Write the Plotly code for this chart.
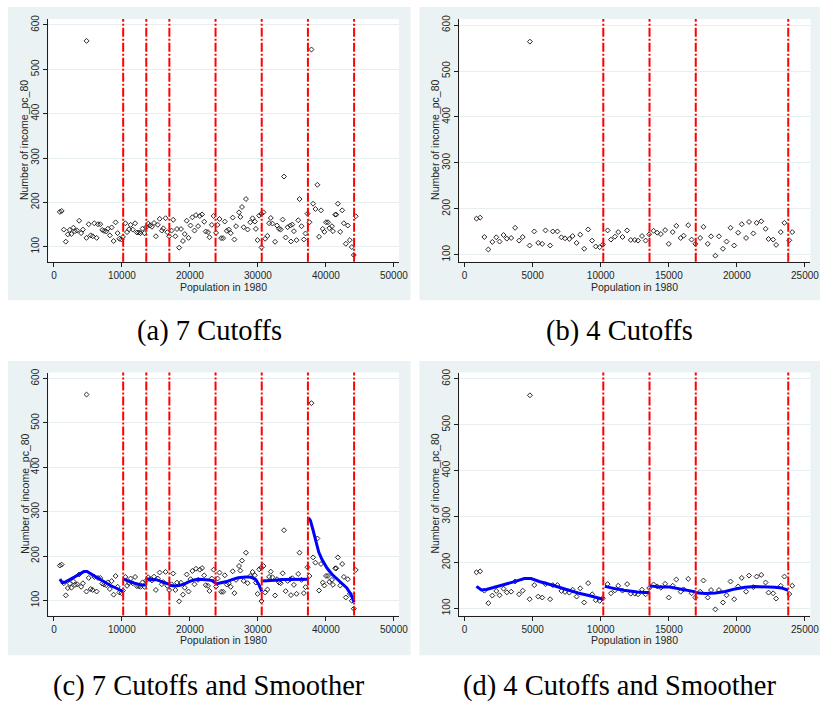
import plotly.graph_objects as go

# ---------------- data ----------------
pop_1980 = [874, 1141, 1456, 1747, 2038, 2330, 2572, 2863, 3106, 3422, 3713, 4004, 4271, 4800, 4780,
            5120, 5411, 5702, 5945, 6285, 6479, 6819, 7110, 7377, 7692, 7935, 8227, 8494, 8785, 9076,
            9367, 9634, 9925, 10150, 10508, 10751, 11042, 11285, 11600, 11940, 12207, 12498, 12740,
            13031, 13298, 13560, 13881, 14148, 14414, 14730, 14997, 15288, 15555, 15870, 16088, 16428,
            16671, 16950, 17302, 17545, 17860, 18103, 18418, 18685, 18976, 19243, 19534, 19802, 20093,
            20360, 20675, 20893, 21209, 21452, 21791, 22106, 22325, 22664, 22882, 23223, 23490,
            23850, 24064, 24356, 24599, 24890, 25134, 25425, 25717, 26009, 26301, 26544, 26787, 27225,
            27419, 27662, 27905, 28246, 28489, 28878, 29219, 29559, 29705, 29948, 30191, 30500, 30532,
            30823, 31066, 31407, 31650, 31893, 32136, 32525, 32817, 33109, 33352, 33644, 33838, 34082,
            34374, 34763, 34860, 35054, 35297, 35686, 35930, 36124, 36416, 36756, 36999, 37300, 37583,
            37874, 38118, 38459, 38750, 38993, 39285, 39528, 39771, 40014, 40306, 40501, 40890, 41036,
            41376, 41522, 41765, 42106, 42398, 42641, 42933, 43224, 43516, 43808, 44100, 44392]
income_pc_80 = [178.6, 180.7, 138.6, 111.4, 127.9, 137.9, 128.6, 142.9, 135.0, 136.4, 158.6, 130.7, 138.6,
                564.0, 120.0, 150.7, 125.7, 123.6, 152.9, 120.0, 150.7, 150.7, 137.9, 135.7, 134.3, 140.7,
                125.7, 143.6, 112.9, 155.0, 130.7, 117.9, 116.4, 122.1, 152.9, 132.9, 139.3, 149.3, 138.6,
                152.9, 132.1, 132.1, 130.7, 140.7, 130.7, 144.3, 152.1, 147.9, 145.0, 153.6, 123.6, 149.3,
                162.9, 136.4, 141.4, 164.3, 132.9, 123.6, 136.4, 160.7, 123.6, 140.0, 97.9, 140.0, 112.9,
                128.6, 158.6, 120.0, 147.9, 166.4, 136.4, 171.4, 146.4, 169.3, 172.9, 156.4, 134.3, 132.9,
                121.4, 149.3, 169.3,
                131.3, 149.3, 162.7, 119.4, 119.4, 156.7, 135.8, 138.8, 130.6, 165.7, 116.4, 146.3, 177.6,
                167.2, 189.6, 144.0, 207.5, 138.8, 155.2, 164.2, 156.7, 140.3, 114.9, 170.1, 173.9, 98.5,
                177.6, 117.9, 124.6, 153.0, 164.9, 152.2, 111.2, 147.8, 140.3, 138.8, 161.2, 258.2, 120.9,
                144.0, 147.8, 111.9, 150.0, 135.1, 114.9, 159.7, 207.5, 146.3, 116.4, 129.9, 174.6, 155.2,
                544.6, 197.0, 185.1, 239.6, 122.4, 182.1, 140.3, 133.6, 155.2, 155.2, 141.8, 146.3, 135.1,
                172.4, 172.4, 197.0, 133.6, 182.1, 153.0, 106.7, 147.8, 114.9, 99.3, 81.3, 168.7]

cutoffs_7 = [10188, 13584, 16980, 23772, 30564, 37356, 44148]
cutoffs_4 = [10188, 13584, 16980, 23772]

smooth_x = [
    [874, 1238, 1602, 2330, 3058, 3786, 4393, 4878, 5484, 6213, 6941, 7669, 8397, 9125, 9853, 10188],
    [10300, 10700, 11200, 11700, 12200, 12700, 13200, 13584],
    [13600, 14317, 15046, 15774, 16502, 16980],
    [16990, 17690, 18418, 19146, 19874, 20602, 21330, 22058, 22787, 23272, 23772],
    [23780, 24600, 25400, 26300, 27100, 28200, 29000, 29700, 30200, 30564],
    [30650, 31500, 32500, 33500, 34500, 35500, 36500, 37356],
    [37450, 37729, 38069, 38458, 38945, 39431, 40160, 40890, 41619, 42349, 43078, 43662, 44148],
]
smooth_y = [
    [148, 140, 141, 146.5, 153, 159.5, 165, 165, 158.5, 152.5, 146, 139, 133, 128, 122, 120],
    [148, 145, 142, 139.5, 137, 135.5, 134.5, 134.5],
    [149, 146.7, 146.7, 143.2, 139.6, 136],
    [134, 132.4, 133.5, 136.7, 142.4, 146, 147.5, 147.5, 146, 144.6, 139.5],
    [137, 139, 142.5, 147.5, 151, 153, 152.5, 147, 134, 120],
    [144, 144, 145.5, 147, 147.5, 147, 147, 147.5],
    [286, 280, 261, 235, 209, 192, 173, 159, 149, 139.5, 128, 114, 96],
]

captions = ["(a) 7 Cutoffs", "(b) 4 Cutoffs", "(c) 7 Cutoffs and Smoother", "(d) 4 Cutoffs and Smoother"]
x_ticks_7 = [0, 10000, 20000, 30000, 40000, 50000]
x_ticks_4 = [0, 5000, 10000, 15000, 20000, 25000]
y_ticks = [100, 200, 300, 400, 500, 600]

# ---------------- layout helpers ----------------
W, H = 829, 704
def PX(x): return x / W
def PY(y): return 1 - y / H

BG = "#EAF2F3"
GRID = "#E6EEF0"
AX = "#1e1e1e"
TICKFONT = dict(family="Liberation Sans, Arial", size=10, color="#262626")
TITLEFONT = dict(family="Liberation Sans, Arial", size=10.5, color="#262626")

panels = [
    dict(ax="", plot=(49, 403.3, 15, 259.3), bg=(8, 415, 3, 298), xr=[-800, 50740], xt=x_ticks_7,
         yr=[66, 613.5], cut=cutoffs_7, smooth=False),
    dict(ax="2", plot=(464.3, 819.3, 15, 259.3), bg=(424, 829, 3, 298), xr=[-390, 25400], xt=x_ticks_4,
         yr=[84.5, 613.5], cut=cutoffs_4, smooth=False),
    dict(ax="3", plot=(49, 403.3, 370.7, 615), bg=(8, 415, 359, 655), xr=[-800, 50740], xt=x_ticks_7,
         yr=[66, 613.5], cut=cutoffs_7, smooth=True),
    dict(ax="4", plot=(464.3, 819.3, 370.7, 615), bg=(424, 829, 359, 655), xr=[-390, 25400], xt=x_ticks_4,
         yr=[84.5, 613.5], cut=cutoffs_4, smooth=True),
]

fig = go.Figure()
shapes_bg, shapes_plot, shapes_lines = [], [], []
annotations = []

for i, p in enumerate(panels):
    a = p["ax"]
    xa, ya = "x" + a, "y" + a
    l, r, t, b = p["plot"]
    last_cut = p["cut"][-1]
    xs = [x for x, y in zip(pop_1980, income_pc_80) if x <= last_cut + 500]
    ys = [y for x, y in zip(pop_1980, income_pc_80) if x <= last_cut + 500]
    fig.add_trace(go.Scatter(
        x=xs, y=ys, mode="markers", xaxis=xa, yaxis=ya, showlegend=False,
        marker=dict(symbol="diamond-open", size=3.8, color="#111111", line=dict(width=0.9)),
        hoverinfo="skip"))
    if p["smooth"]:
        nseg = len(p["cut"])
        sx, sy = [], []
        for k in range(nseg):
            sx += smooth_x[k] + [None]
            sy += smooth_y[k] + [None]
        fig.add_trace(go.Scatter(x=sx, y=sy, mode="lines", xaxis=xa, yaxis=ya, showlegend=False,
                                 line=dict(color="#0000FF", width=3), hoverinfo="skip"))

    fig.layout["xaxis" + a] = dict(
        domain=[PX(l), PX(r)], anchor=ya, range=p["xr"], tickmode="array", tickvals=p["xt"],
        ticktext=[str(v) for v in p["xt"]], ticks="outside", ticklen=4, tickwidth=1, tickcolor=AX,
        showline=True, linecolor=AX, linewidth=1, showgrid=False, zeroline=False, tickfont=TICKFONT)
    fig.layout["yaxis" + a] = dict(
        domain=[PY(b), PY(t)], anchor=xa, range=p["yr"], tickmode="array", tickvals=y_ticks,
        ticktext=[str(v) for v in y_ticks], ticks="outside", ticklen=4, tickwidth=1, tickcolor=AX,
        tickangle=-90, showline=True, linecolor=AX, linewidth=1, showgrid=True, gridcolor=GRID,
        gridwidth=1, zeroline=False, tickfont=TICKFONT)

    bl, br, bt, bb = p["bg"]
    shapes_bg.append(dict(type="rect", xref="paper", yref="paper", x0=PX(bl), x1=PX(br),
                          y0=PY(bb), y1=PY(bt), fillcolor=BG, line=dict(width=0), layer="below"))
    shapes_plot.append(dict(type="rect", xref=xa + " domain", yref=ya + " domain", x0=0, x1=1,
                            y0=0, y1=1, fillcolor="white", line=dict(width=0), layer="below"))
    for c in p["cut"]:
        shapes_lines.append(dict(type="line", xref=xa, yref=ya + " domain", x0=c, x1=c, y0=0, y1=1,
                                 line=dict(color="#FF0000", width=2, dash="9px,2px,2px,2px"),
                                 layer="above"))

    annotations.append(dict(text="Population in 1980", xref="paper", yref="paper",
                            x=PX((l + r) / 2), y=PY(b + 25), xanchor="center", yanchor="middle",
                            showarrow=False, font=TITLEFONT))
    annotations.append(dict(text="Number of income_pc_80", xref="paper", yref="paper",
                            x=PX(l - 24), y=PY((t + b) / 2), xanchor="center", yanchor="middle",
                            textangle=-90, showarrow=False, font=TITLEFONT))
    cx = (bl + br) / 2
    cy = 329 if i < 2 else 686
    annotations.append(dict(text=captions[i], xref="paper", yref="paper", x=PX(cx), y=PY(cy),
                            xanchor="center", yanchor="middle", showarrow=False,
                            font=dict(family="Liberation Serif, Times New Roman, serif", size=28.5,
                                      color="#000000")))

fig.update_layout(
    width=W, height=H, margin=dict(l=0, r=0, t=0, b=0),
    paper_bgcolor="white", plot_bgcolor="white",
    shapes=shapes_bg + shapes_plot + shapes_lines,
    annotations=annotations, showlegend=False,
)

fig.write_html("out.html")
